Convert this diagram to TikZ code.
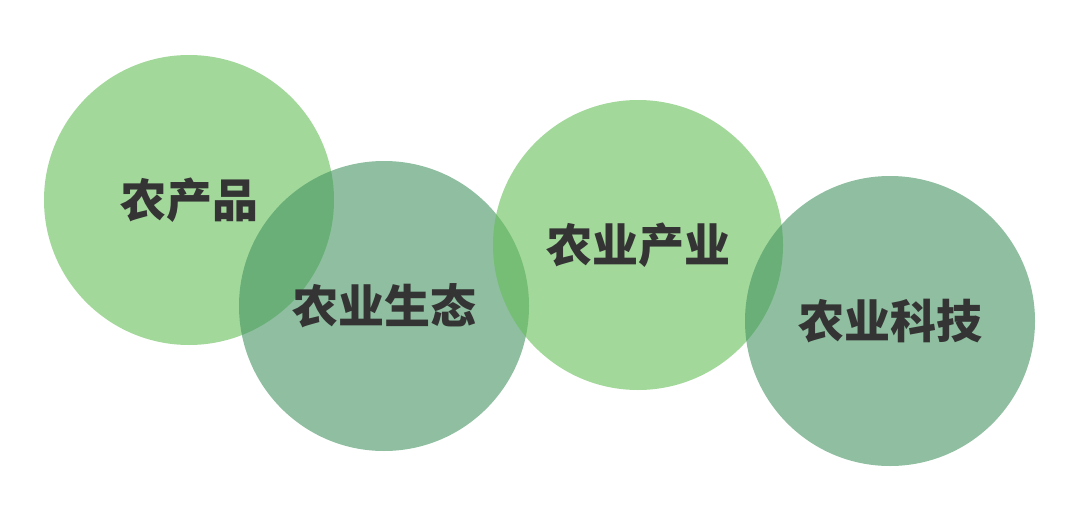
\documentclass[tikz,border=0pt]{standalone}
\usepackage{fontspec}
\newfontfamily\cjk{Noto Sans CJK SC}
\definecolor{leafgreen}{RGB}{102,190,88}
\definecolor{sagegreen}{RGB}{68,148,97}
\definecolor{inkgray}{RGB}{52,52,52}
\begin{document}
\begin{tikzpicture}[x=0.5pt,y=-0.5pt,
  bubble/.style={circle,minimum size=145pt,inner sep=0pt,fill opacity=0.6,text opacity=1,
    text=inkgray,font=\cjk\bfseries\fontsize{23}{23}\selectfont},
  light/.style={bubble,fill=leafgreen},
  dark/.style={bubble,fill=sagegreen}]
\useasboundingbox(0,0)rectangle(1080,508);
\node[light](produce)at(189,200){农产品};
\node[dark](ecology)at(384,306){农业生态};
\node[light](industry)at(638,245){农业产业};
\node[dark](tech)at(890,321){农业科技};
\end{tikzpicture}
\end{document}
